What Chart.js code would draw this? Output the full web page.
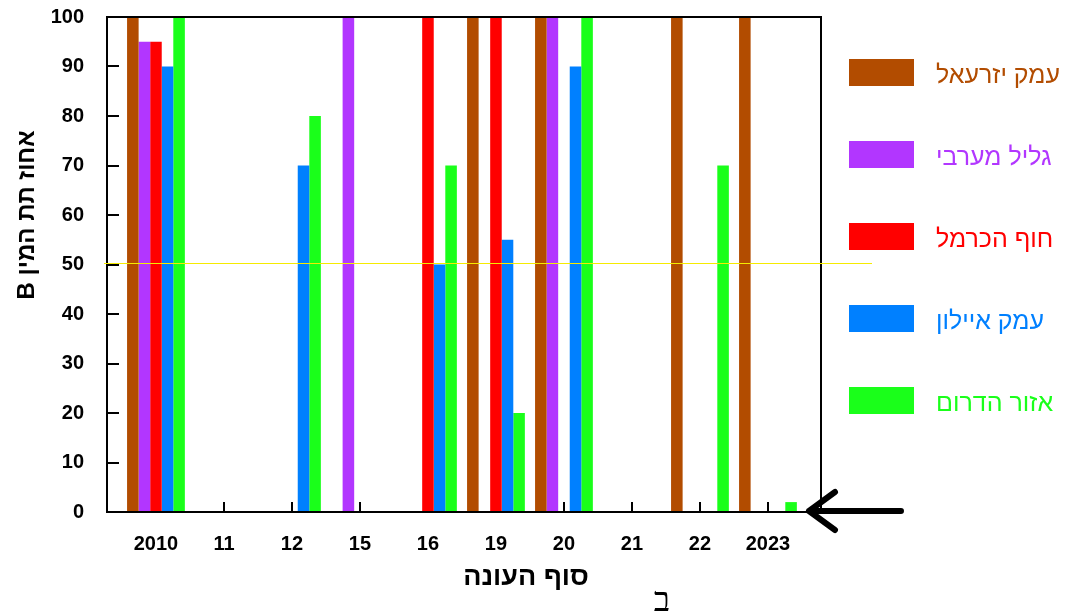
<!DOCTYPE html>
<html><head><meta charset="utf-8">
<script src="https://cdn.jsdelivr.net/npm/chart.js@4.4.1/dist/chart.umd.min.js"></script>
<style>html,body{margin:0;padding:0;background:#fff;overflow:hidden}#wrap{width:1065px;height:612px;position:relative}</style>
</head><body><div id="wrap"><canvas id="c" width="1065" height="612"></canvas></div>
<script>
// ---- data ----
const categories = ['2010', '11', '12', '15', '16', '19', '20', '21', '22', '2023'];
const seriesNames = ['עמק יזרעאל', 'גליל מערבי', 'חוף הכרמל', 'עמק איילון', 'אזור הדרום'];
const emekYizrael = [100, null, null, null, null, 100, 100, null, 100, 100];
const galilMaaravi = [95, null, null, 100, null, null, 100, null, null, null];
const hofHacarmel = [95, null, null, null, 100, 100, null, null, null, null];
const emekAyalon = [90, null, 70, null, 50, 55, 90, null, null, null];
const ezorHadarom = [100, null, 80, null, 70, 20, 100, null, 70, 2];
const yTickValues = [0, 10, 20, 30, 40, 50, 60, 70, 80, 90, 100];
const xTitle = 'סוף העונה';
const yTitle = 'אחוז תת המין B';
const markLine = 50.3;
const panelLetter = 'ב';

// ---- styles ----
const colors = ['#B24C00', '#B236FF', '#FF0000', '#0080FF', '#1AFF1A'];
const seriesValues = [emekYizrael, galilMaaravi, hofHacarmel, emekAyalon, ezorHadarom];
const tickFont = {family: '"Liberation Sans", Arial, sans-serif', size: 20, weight: 'bold'};

const datasets = seriesValues.map((vals, k) => ({
  label: seriesNames[k],
  data: vals.map((v, i) => ({x: i, y: v})),
  backgroundColor: colors[k],
  borderWidth: 0,
  barPercentage: 1,
  categoryPercentage: 0.85
}));

const decor = {
  id: 'decor',
  beforeDatasetsDraw(chart) {
    const {ctx, chartArea: a, scales: {x, y}} = chart;
    ctx.save();
    ctx.strokeStyle = '#000';
    ctx.lineWidth = 2;
    ctx.beginPath();
    x.ticks.forEach(t => {
      const px = Math.round(x.getPixelForValue(t.value));
      ctx.moveTo(px, a.bottom); ctx.lineTo(px, a.bottom - 10);
    });
    y.ticks.forEach(t => {
      if (t.value <= 0 || t.value >= 100) return;
      const py = Math.round(y.getPixelForValue(t.value));
      ctx.moveTo(a.left, py); ctx.lineTo(a.left + 12, py);
    });
    ctx.stroke();
    ctx.restore();
  },
  afterDatasetsDraw(chart) {
    const {ctx, chartArea: a, scales: {y}} = chart;
    ctx.save();
    // frame
    ctx.strokeStyle = '#000';
    ctx.lineWidth = 2;
    ctx.strokeRect(a.left, a.top, a.right - a.left, a.bottom - a.top);
    // yellow reference line
    const yl = Math.round(y.getPixelForValue(markLine)) + 0.5;
    ctx.strokeStyle = '#F5EB00';
    ctx.lineWidth = 1.2;
    ctx.beginPath();
    ctx.moveTo(a.left - 3, yl); ctx.lineTo(a.right + 51, yl);
    ctx.stroke();
    // arrow
    const ay = a.bottom - 1;
    const tip = a.right - 14;
    ctx.strokeStyle = '#000';
    ctx.lineWidth = 6;
    ctx.lineCap = 'round';
    ctx.lineJoin = 'round';
    ctx.beginPath();
    ctx.moveTo(tip + 2, ay); ctx.lineTo(tip + 94, ay);
    ctx.moveTo(tip + 28, ay - 19); ctx.lineTo(tip + 2, ay); ctx.lineTo(tip + 28, ay + 19);
    ctx.stroke();
    // legend
    chart.data.datasets.forEach((ds, i) => {
      const top = 59 + 82 * i;
      ctx.fillStyle = ds.backgroundColor;
      ctx.fillRect(849, top, 65, 27);
      ctx.font = '25px "Liberation Sans", Arial, sans-serif';
      ctx.textAlign = 'left';
      ctx.textBaseline = 'alphabetic';
      ctx.fillText(ds.label, 936, top + 24);
    });
    // axis titles
    ctx.fillStyle = '#000';
    ctx.font = 'bold 27px "Liberation Sans", Arial, sans-serif';
    ctx.textAlign = 'center';
    ctx.textBaseline = 'middle';
    ctx.fillText(xTitle, 526, 578);
    ctx.save();
    ctx.translate(27, 215);
    ctx.rotate(-Math.PI / 2);
    ctx.direction = 'rtl';
    ctx.font = 'bold 24px "Liberation Sans", Arial, sans-serif';
    ctx.fillText(yTitle, 0, 0);
    ctx.restore();
    // panel letter
    ctx.font = '34px "Liberation Serif", serif';
    ctx.textBaseline = 'alphabetic';
    ctx.fillText(panelLetter, 662, 611);
    ctx.restore();
  }
};

new Chart(document.getElementById('c'), {
  type: 'bar',
  data: {datasets},
  options: {
    responsive: false,
    animation: false,
    devicePixelRatio: 1,
    layout: {padding: {top: 17, right: 244, left: 0, bottom: 0}},
    plugins: {legend: {display: false}, tooltip: {enabled: false}},
    scales: {
      x: {
        type: 'linear',
        min: -0.72,
        max: 9.78,
        offset: false,
        grid: {display: false},
        border: {display: false},
        afterBuildTicks: s => { s.ticks = categories.map((c, i) => ({value: i})); },
        afterFit: s => { s.height = 100; s.paddingLeft = 0; s.paddingRight = 0; },
        ticks: {
          autoSkip: false, maxRotation: 0, color: '#000', font: tickFont, padding: 12,
          callback: v => categories[v] ?? ''
        }
      },
      y: {
        min: 0, max: 100,
        grid: {display: false},
        border: {display: false},
        afterBuildTicks: s => { s.ticks = yTickValues.map(v => ({value: v})); },
        afterFit: s => { s.width = 107; s.paddingTop = 0; s.paddingBottom = 0; },
        ticks: {color: '#000', font: tickFont, padding: 15}
      }
    }
  },
  plugins: [decor]
});
</script></body></html>
